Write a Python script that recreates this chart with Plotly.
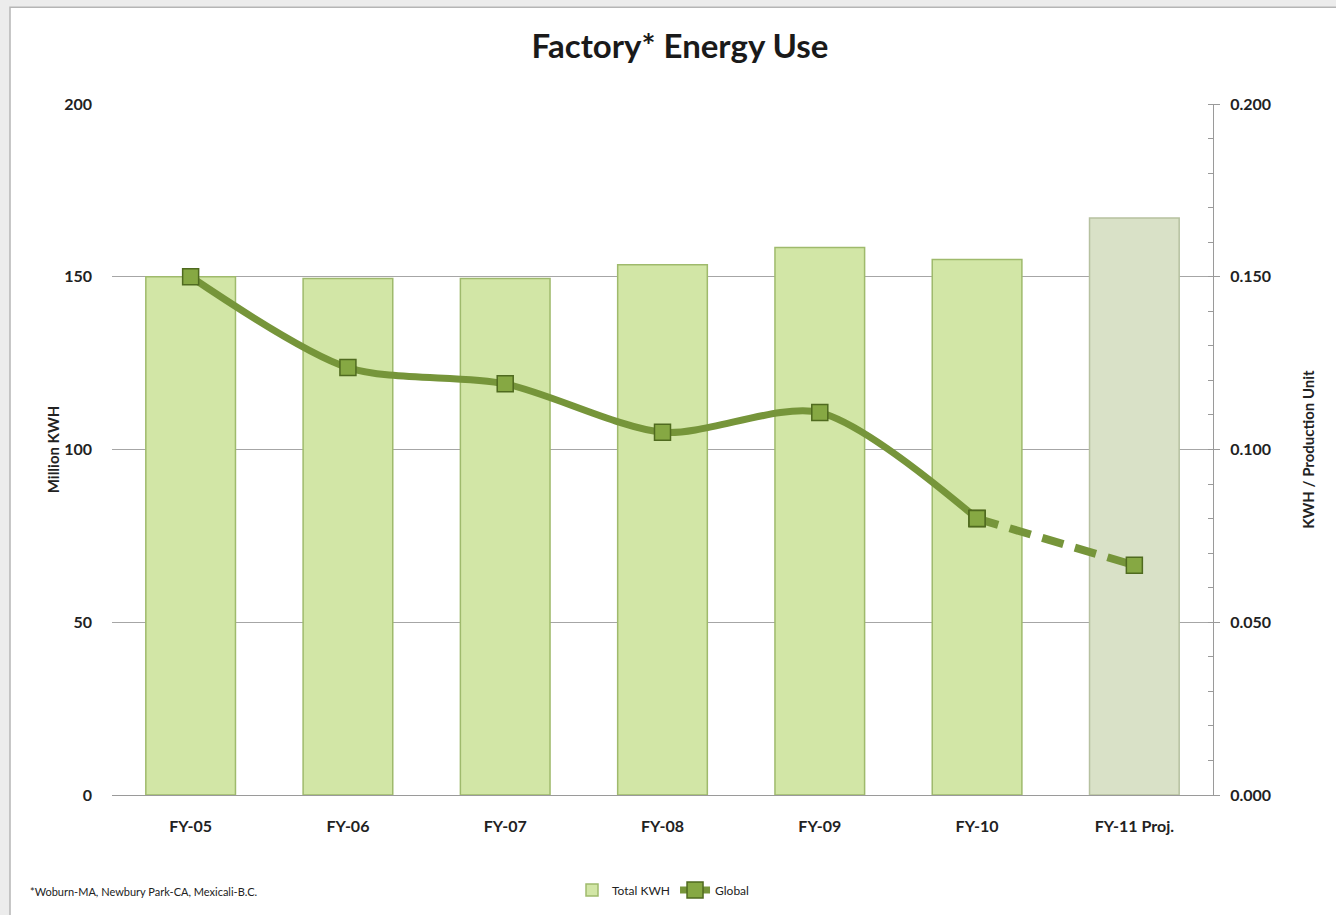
import plotly.graph_objects as go

# Chart data
categories = ["FY-05", "FY-06", "FY-07", "FY-08", "FY-09", "FY-10", "FY-11 Proj."]
total_kwh = [150.0, 149.5, 149.5, 153.5, 158.5, 155.0, 167.0]          # Million KWH
kwh_per_unit = [0.150, 0.1237, 0.119, 0.105, 0.1107, 0.080, 0.0665]     # KWH / Production Unit
left_ticks = [0, 50, 100, 150, 200]
right_ticks = [0.0, 0.05, 0.10, 0.15, 0.20]

W, H = 1336, 915
L, R, T, B = 112, 123, 104, 119
PW, PH = W - L - R, H - T - B


def px_x(px):
    return (px - L) / PW


def px_y(py):
    return (H - B - py) / PH


FONT = "Lato"
TICK_FONT = dict(family=FONT, size=16, color="#222222", weight="bold")
BAR_FILL = ["#d2e6a6"] * 6 + ["#d9e1c7"]
BAR_EDGE = ["#9fba6c"] * 6 + ["#b6c1a0"]
LINE_COL = "#76953a"
MARKER = dict(symbol="square", size=16, color="#86a843", line=dict(color="#4f6a1f", width=1.5))

fig = go.Figure()

fig.add_trace(go.Bar(
    x=categories, y=total_kwh, name="Total KWH",
    width=0.57,
    marker=dict(color=BAR_FILL, line=dict(color=BAR_EDGE, width=1.5)),
    yaxis="y",
))

# Measured years: smoothed solid line
fig.add_trace(go.Scatter(
    x=categories[:6], y=kwh_per_unit[:6], name="Global",
    mode="lines+markers", line=dict(color=LINE_COL, width=7, shape="spline", smoothing=0.8),
    marker=MARKER, yaxis="y2",
))

# Projection: dashed segment
fig.add_trace(go.Scatter(
    x=categories[5:], y=kwh_per_unit[5:], name="Global",
    mode="lines+markers", line=dict(color=LINE_COL, width=8, dash="22px,12px"),
    marker=MARKER, yaxis="y2", showlegend=False,
))

# FY-10 marker drawn again above the dashed segment
fig.add_trace(go.Scatter(
    x=[categories[5]], y=[kwh_per_unit[5]], mode="markers",
    marker=MARKER, yaxis="y2", showlegend=False,
))

fig.update_layout(
    width=W, height=H,
    margin=dict(l=L, r=R, t=T, b=B),
    paper_bgcolor="#ececec",
    plot_bgcolor="rgba(0,0,0,0)",
    font=dict(family=FONT, color="#222222"),
    showlegend=True,
    title=dict(text="<b>Factory* Energy Use</b>", x=px_x(680), xref="paper",
               xanchor="center", y=1 - 46 / H, yanchor="middle",
               font=dict(family=FONT, size=33, color="#1a1a1a")),
    xaxis=dict(
        type="category", showgrid=False, showline=True, linecolor="#9a9a9a",
        tickfont=TICK_FONT, ticks="", ticklabelstandoff=17,
    ),
    yaxis=dict(
        range=[0, 200], tickvals=left_ticks, showgrid=True, gridcolor="#a6a6a6", gridwidth=1,
        zeroline=False, showline=False, ticks="",
        tickfont=TICK_FONT, ticklabelstandoff=19,
        title=dict(text="<b>Million KWH</b>", font=dict(family=FONT, size=15), standoff=0),
    ),
    yaxis2=dict(
        range=[0, 0.2], overlaying="y", side="right", tickvals=right_ticks, tickformat=".3f",
        showgrid=False, zeroline=False, showline=True, linecolor="#9a9a9a",
        ticks="outside", ticklen=6, tickcolor="#9a9a9a",
        minor=dict(dtick=0.01, ticks="inside", ticklen=5, tickcolor="#9a9a9a"),
        tickfont=TICK_FONT, ticklabelstandoff=7,
        title=dict(text="<b>KWH / Production Unit</b>", font=dict(family=FONT, size=15), standoff=33),
    ),
    legend=dict(
        orientation="h", x=px_x(572), y=px_y(890), xanchor="left", yanchor="middle",
        bgcolor="rgba(0,0,0,0)", font=dict(family=FONT, size=12, color="#222222"),
        itemwidth=30,
    ),
    shapes=[
        dict(type="rect", xref="paper", yref="paper", layer="below",
             x0=px_x(10), x1=px_x(W + 5), y0=px_y(H + 5), y1=px_y(7),
             fillcolor="white", line=dict(color="#b5b5b5", width=1.5)),
    ],
    annotations=[
        dict(text="*Woburn-MA, Newbury Park-CA, Mexicali-B.C.", xref="paper", yref="paper",
             x=px_x(28), y=px_y(893), xanchor="left", yanchor="middle", showarrow=False,
             font=dict(family=FONT, size=11, color="#222222")),
    ],
)

fig.write_html("out.html")
